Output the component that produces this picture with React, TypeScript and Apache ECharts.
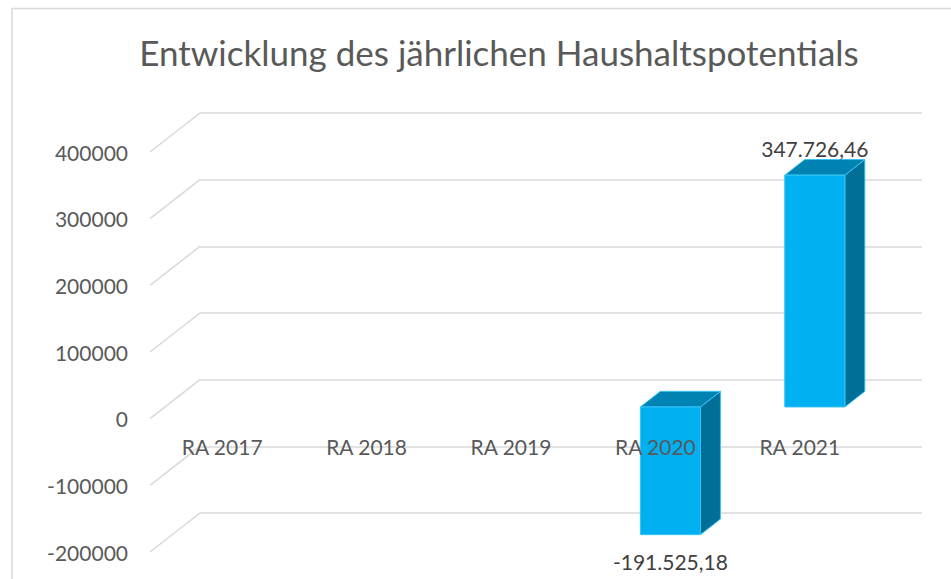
import React, { useEffect, useRef } from "react";
import * as echarts from "echarts";

const TITLE = "Entwicklung des jährlichen Haushaltspotentials";
const categories = ["RA 2017", "RA 2018", "RA 2019", "RA 2020", "RA 2021"];
const values: (number | null)[] = [null, null, null, -191525.18, 347726.46];
const yMin = -200000;
const yMax = 400000;
const yStep = 100000;
const tickValues = [-200000, -100000, 0, 100000, 200000, 300000, 400000];

// depth projection (back wall -> front plane)
const DX = -50;
const DY = 39;
const D_FRONT = 0.7;
const D_BACK = 0.3;

function fmtDe(v: number): string {
  const neg = v < 0;
  const a = Math.abs(v);
  const fixed = a.toFixed(2);
  const [ip, dp] = fixed.split(".");
  const withDots = ip.replace(/\B(?=(\d{3})+(?!\d))/g, ".");
  return (neg ? "-" : "") + withDots + "," + dp;
}

const FONT = "Lato, 'Open Sans', sans-serif";

export default function App() {
  const ref = useRef<HTMLDivElement>(null);
  useEffect(() => {
    document.body.style.margin = "0";
    if (!ref.current) return;
    const chart = echarts.init(ref.current, null, { renderer: "svg" });
    const option: any = {
      animation: false,
      backgroundColor: "#ffffff",
      title: {
        text: TITLE,
        left: 494,
        top: 29,
        textAlign: "center",
        textStyle: { fontFamily: FONT, fontSize: 35, fontWeight: "normal", color: "#595959" },
      },
      graphic: [
        {
          type: "polyline",
          shape: { points: [[12, 1000], [12, 8.5], [1000, 8.5]] },
          style: { stroke: "#d9d9d9", lineWidth: 1.5, fill: null },
          silent: true,
        },
      ],
      grid: [
        { left: 200, right: 29, top: 113, bottom: 66 },
        { left: 150, right: 79, top: 152, bottom: 27 },
      ],
      xAxis: [
        {
          type: "category",
          gridIndex: 0,
          data: categories,
          axisLine: { show: false },
          axisTick: { show: false },
          axisLabel: { show: false },
          splitLine: { show: false },
        },
        {
          type: "category",
          gridIndex: 1,
          data: categories,
          offset: -134,
          z: 10,
          axisLine: { show: false },
          axisTick: { show: false },
          splitLine: { show: false },
          axisLabel: { margin: 18, fontFamily: FONT, fontSize: 21, color: "#595959" },
        },
      ],
      yAxis: [
        {
          type: "value",
          gridIndex: 0,
          min: yMin,
          max: yMax,
          interval: yStep,
          axisLine: { show: false },
          axisTick: { show: false },
          axisLabel: { show: false },
          splitLine: { show: true, lineStyle: { color: "#d9d9d9", width: 1.5 } },
        },
        {
          type: "value",
          gridIndex: 1,
          min: yMin,
          max: yMax,
          interval: yStep,
          axisLine: { show: false },
          axisTick: { show: false },
          splitLine: { show: false },
          axisLabel: {
            margin: 22,
            fontFamily: FONT,
            fontSize: 21,
            color: "#595959",
            formatter: (v: number) => String(v),
          },
        },
      ],
      series: [
        {
          type: "custom",
          xAxisIndex: 0,
          yAxisIndex: 0,
          silent: true,
          z: 1,
          data: tickValues.map((v) => [0, v]),
          encode: { x: 0, y: 1 },
          renderItem: (params: any, api: any) => {
            const v = api.value(1);
            const p = api.coord([0, v]);
            const x0 = params.coordSys.x;
            return {
              type: "line",
              shape: { x1: x0, y1: p[1], x2: x0 + DX, y2: p[1] + DY },
              style: { stroke: "#d9d9d9", lineWidth: 1.5 },
            };
          },
        },
        {
          type: "custom",
          xAxisIndex: 0,
          yAxisIndex: 0,
          silent: true,
          z: 5,
          data: values.map((v, i) => [i, v]),
          encode: { x: 0, y: 1 },
          renderItem: (params: any, api: any) => {
            const c = api.value(0);
            const v = api.value(1);
            if (v === null || v === undefined || isNaN(v)) return null;
            const p0 = api.coord([c, 0]);
            const p1 = api.coord([c, v]);
            const bw = api.size([1, 0])[0];
            const hw = bw * 0.208;
            const cx = p0[0];
            const yTop = Math.min(p0[1], p1[1]);
            const yBot = Math.max(p0[1], p1[1]);
            const P = (x: number, y: number, d: number) => [x + DX * d, y + DY * d];
            const edge = "#36c3f5";
            const children: any[] = [
              {
                type: "polygon",
                shape: {
                  points: [
                    P(cx + hw, yTop, D_FRONT),
                    P(cx + hw, yTop, D_BACK),
                    P(cx + hw, yBot, D_BACK),
                    P(cx + hw, yBot, D_FRONT),
                  ],
                },
                style: { fill: "#006f98", stroke: edge, lineWidth: 1 },
              },
              {
                type: "polygon",
                shape: {
                  points: [
                    P(cx - hw, yTop, D_FRONT),
                    P(cx + hw, yTop, D_FRONT),
                    P(cx + hw, yTop, D_BACK),
                    P(cx - hw, yTop, D_BACK),
                  ],
                },
                style: { fill: "#0083b3", stroke: edge, lineWidth: 1 },
              },
              {
                type: "rect",
                shape: {
                  x: cx - hw + DX * D_FRONT,
                  y: yTop + DY * D_FRONT,
                  width: 2 * hw,
                  height: yBot - yTop,
                },
                style: { fill: "#00b0f0", stroke: edge, lineWidth: 1 },
              },
            ];
            const fx = cx + DX * D_FRONT;
            const labelY = v >= 0 ? yTop + DY * D_FRONT - 27 : yBot + DY * D_FRONT + 27;
            children.push({
              type: "text",
              style: {
                x: fx,
                y: labelY,
                text: fmtDe(v),
                textAlign: "center",
                textVerticalAlign: "middle",
                fontFamily: FONT,
                fontSize: 21,
                fill: "#404040",
              },
            });
            return { type: "group", children };
          },
        },
      ],
    };
    chart.setOption(option);
    return () => chart.dispose();
  }, []);
  return <div ref={ref} style={{ width: 951, height: 579 }} />;
}
